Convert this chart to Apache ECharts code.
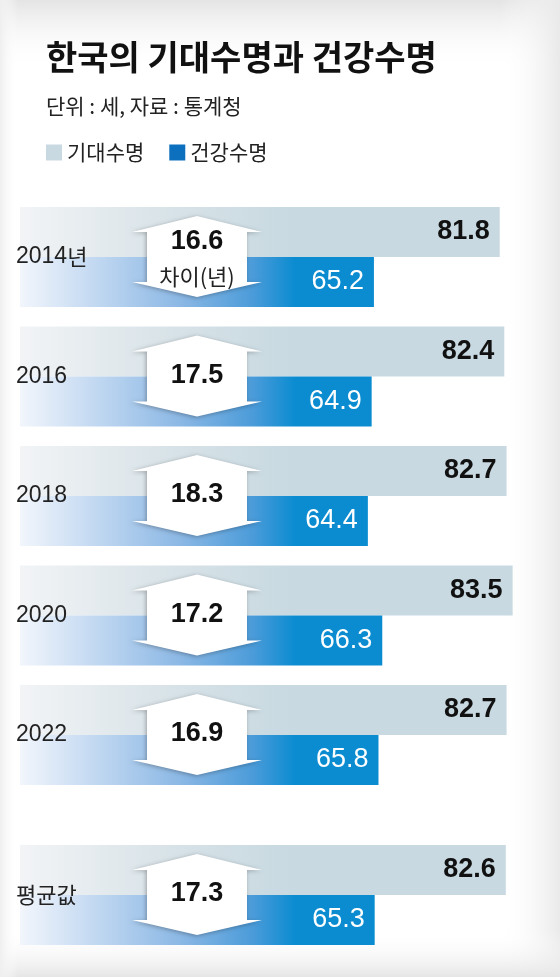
<!DOCTYPE html>
<html>
<head>
<meta charset="utf-8">
<script src="https://cdn.jsdelivr.net/npm/echarts@6/dist/echarts.min.js"></script>
<style>
html,body{margin:0;padding:0;background:#fff;}
#chart{width:560px;height:977px;}
</style>
</head>
<body>
<div id="chart"></div>
<script>
// ---- data ----
const categories = ['2014년', '2016', '2018', '2020', '2022'];
const avgCategory = ['평균값'];
const lifeExpectancy = [81.8, 82.4, 82.7, 83.5, 82.7];
const healthyLife = [65.2, 64.9, 64.4, 66.3, 65.8];
const lifeExpectancyAvg = [82.6];
const healthyLifeAvg = [65.3];
const gaps = [16.6, 17.5, 18.3, 17.2, 16.9];
const gapAvg = [17.3];
const seriesNames = ['기대수명', '건강수명'];
const gapNote = '차이(년)';

// ---- styles ----
const NUM = '"Liberation Sans", Arial, "Noto Sans CJK KR", sans-serif';
const KR = '"Noto Sans CJK KR", sans-serif';
const lightGrad = {type: 'linear', x: 20, y: 0, x2: 290, y2: 0, global: true,
  colorStops: [{offset: 0, color: '#f2f4f6'}, {offset: 0.5, color: '#dae4e9'}, {offset: 1, color: '#c8d9e1'}]};
const blueGrad = {type: 'linear', x: 20, y: 0, x2: 295, y2: 0, global: true,
  colorStops: [{offset: 0, color: '#f2f6fc'}, {offset: 0.2, color: '#cfe0f4'}, {offset: 0.6, color: '#88b6e4'},
               {offset: 0.85, color: '#4a9bd9'}, {offset: 1, color: '#0b8cd1'}]};

const chart = echarts.init(document.getElementById('chart'), null, {renderer: 'canvas'});

function barSeries(name, data, gridIdx, color, labelStyle) {
  return {
    type: 'bar', name: name, data: data,
    xAxisIndex: gridIdx, yAxisIndex: gridIdx,
    barWidth: 50, barGap: '0%', silent: true,
    itemStyle: {color: color},
    label: Object.assign({show: true, position: 'insideRight', distance: 10,
      fontFamily: NUM, fontSize: 27}, labelStyle),
    z: 2
  };
}

function renderArrow(params, api) {
  const c = api.coord([api.value(0), api.value(1)]);
  const cy = c[1];
  const cx = params.coordSys.x + 177;
  const pts = [[cx, cy - 41], [cx + 65, cy - 25], [cx + 50, cy - 25], [cx + 50, cy + 25], [cx + 65, cy + 25],
               [cx, cy + 40], [cx - 65, cy + 25], [cx - 50, cy + 25], [cx - 50, cy - 25], [cx - 65, cy - 25]];
  const withNote = params.seriesIndex === 4 && params.dataIndex === 0;
  const children = [{
    type: 'polygon', shape: {points: pts},
    style: {fill: '#ffffff', shadowBlur: 4, shadowColor: 'rgba(0,0,0,0.3)', shadowOffsetX: -1, shadowOffsetY: 1}
  }, {
    type: 'text',
    style: {text: api.value(0).toFixed(1), x: cx, y: withNote ? cy - 15 : cy - 1, align: 'center', verticalAlign: 'middle',
      font: 'bold 27px ' + NUM, fill: '#111'}
  }];
  if (withNote) {
    children.push({type: 'text',
      style: {text: gapNote, x: cx, y: cy + 20, align: 'center', verticalAlign: 'middle',
        font: '22px ' + KR, fill: '#222'}});
  }
  return {type: 'group', children: children};
}

const yLabel = {
  inside: true, margin: -4, color: '#222',
  formatter: function (v) {
    const m = v.match(/^(\d*)(.*)$/);
    return (m[1] ? '{d|' + m[1] + '}' : '') + (m[2] ? '{h|' + m[2] + '}' : '');
  },
  rich: {d: {fontFamily: NUM, fontSize: 23, color: '#222'}, h: {fontFamily: KR, fontSize: 22, color: '#222'}}
};

function edge(shape, x, y, x2, y2, c0, c1) {
  return {type: 'rect', z: -1, silent: true, shape: shape,
    style: {fill: {type: 'linear', x: x, y: y, x2: x2, y2: y2,
      colorStops: [{offset: 0, color: c0}, {offset: 1, color: c1}]}}};
}

const option = {
  backgroundColor: '#ffffff',
  animation: false,
  title: {
    text: '한국의 기대수명과 건강수명',
    subtext: '단위 : 세, 자료 : 통계청',
    left: 41, top: 35, itemGap: 22,
    textStyle: {fontFamily: KR, fontWeight: 'bold', fontSize: 34, color: '#111'},
    subtextStyle: {fontFamily: KR, fontSize: 21, color: '#222'}
  },
  legend: {
    left: 41, top: 137, itemWidth: 16, itemHeight: 16, itemGap: 25, icon: 'rect', selectedMode: false,
    textStyle: {fontFamily: KR, fontSize: 21, color: '#222'},
    data: [{name: seriesNames[0], itemStyle: {color: '#c8d9e1'}}, {name: seriesNames[1], itemStyle: {color: '#0d70bf'}}]
  },
  graphic: [
    edge({x: 0, y: 0, width: 560, height: 70}, 0, 0, 0, 1, '#e4e4e4', 'rgba(255,255,255,0)'),
    edge({x: 500, y: 0, width: 60, height: 977}, 0, 0, 1, 0, 'rgba(255,255,255,0)', '#e9e9e9'),
    edge({x: 0, y: 930, width: 560, height: 47}, 0, 0, 0, 1, 'rgba(255,255,255,0)', '#e6e6e6'),
    edge({x: 0, y: 0, width: 18, height: 977}, 0, 0, 1, 0, '#efefef', 'rgba(255,255,255,0)')
  ],
  grid: [
    {left: 20, right: 36, top: 197.25, height: 597.5},
    {left: 20, right: 36, top: 835.25, height: 119.5}
  ],
  xAxis: [
    {gridIndex: 0, type: 'value', min: 18.5, max: 85, show: false},
    {gridIndex: 1, type: 'value', min: 18.5, max: 85, show: false}
  ],
  yAxis: [
    {gridIndex: 0, type: 'category', data: categories, inverse: true, z: 5,
      axisLine: {show: false}, axisTick: {show: false}, axisLabel: yLabel},
    {gridIndex: 1, type: 'category', data: avgCategory, inverse: true, z: 5,
      axisLine: {show: false}, axisTick: {show: false}, axisLabel: yLabel}
  ],
  series: [
    barSeries(seriesNames[0], lifeExpectancy, 0, lightGrad, {color: '#111', fontWeight: 'bold'}),
    barSeries(seriesNames[1], healthyLife, 0, blueGrad, {color: '#fff'}),
    barSeries(seriesNames[0], lifeExpectancyAvg, 1, lightGrad, {color: '#111', fontWeight: 'bold'}),
    barSeries(seriesNames[1], healthyLifeAvg, 1, blueGrad, {color: '#fff'}),
    {type: 'custom', name: 'gap0', xAxisIndex: 0, yAxisIndex: 0, silent: true, z: 4,
      data: gaps.map((g, i) => [g, categories[i]]), renderItem: renderArrow},
    {type: 'custom', name: 'gap1', xAxisIndex: 1, yAxisIndex: 1, silent: true, z: 4,
      data: gapAvg.map((g, i) => [g, avgCategory[i]]), renderItem: renderArrow}
  ]
};
chart.setOption(option);
</script>
</body>
</html>
